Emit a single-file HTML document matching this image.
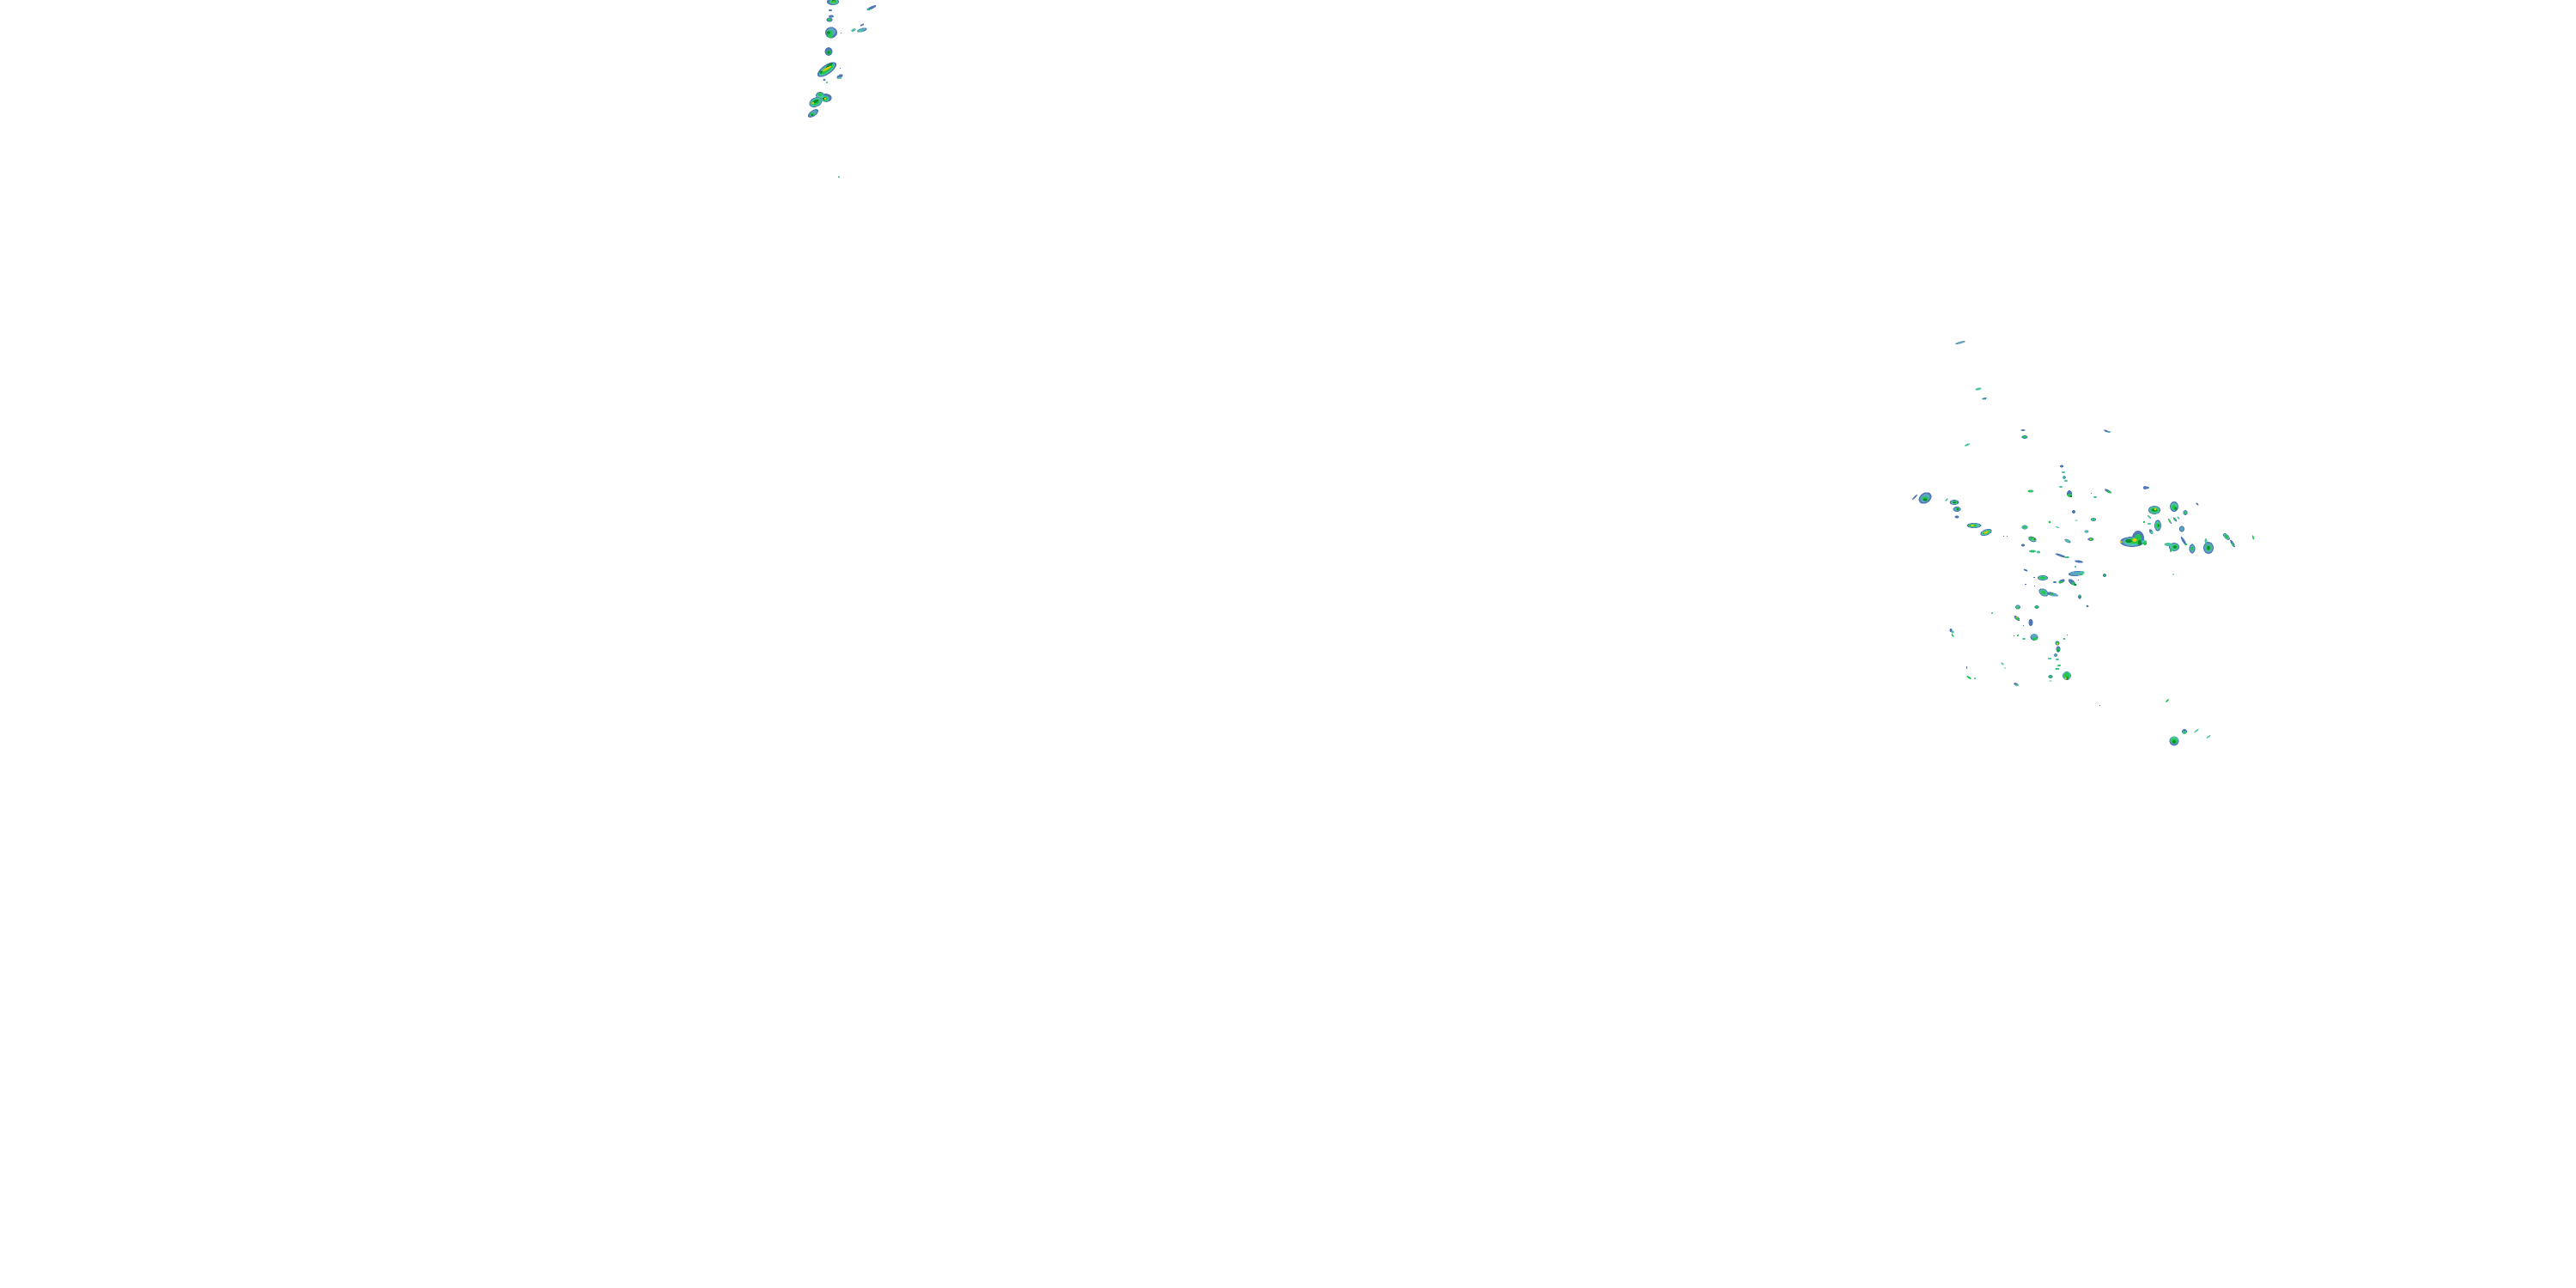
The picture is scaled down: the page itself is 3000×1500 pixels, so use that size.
<!DOCTYPE html>
<html><head><meta charset="utf-8"><style>
html,body{margin:0;padding:0;background:#fff;width:3000px;height:1500px;overflow:hidden}
svg{display:block}
.b{fill:#4f78b6}.l{fill:#5aa8bf}.t{fill:#4cc4a4}.g{fill:#20c84c}.d{fill:#0a8c2c}.y{fill:#f2c500}
</style></head><body>
<svg width="3000" height="1500" viewBox="0 0 3000 1500" shape-rendering="crispEdges">
<rect width="3000" height="1500" fill="#fff"/>
<g class="b">
<ellipse cx="970" cy="2" rx="7" ry="4"/>
<ellipse cx="1015" cy="9" rx="6" ry="1.6" transform="rotate(-25 1015 9)"/>
<ellipse cx="967" cy="12" rx="2" ry="1"/>
<ellipse cx="968" cy="19" rx="3" ry="1.5"/>
<ellipse cx="966" cy="23" rx="3.5" ry="2.5"/>
<ellipse cx="968" cy="38" rx="7" ry="6.5"/>
<ellipse cx="1004" cy="29" rx="2.5" ry="1" transform="rotate(-30 1004 29)"/>
<ellipse cx="1004" cy="35" rx="6" ry="2.2" transform="rotate(-15 1004 35)"/>
<ellipse cx="965" cy="60" rx="4.5" ry="5"/>
<ellipse cx="963" cy="81" rx="13" ry="5.5" transform="rotate(-35 963 81)"/>
<ellipse cx="978" cy="89" rx="4" ry="2" transform="rotate(-30 978 89)"/>
<ellipse cx="960" cy="93" rx="1.5" ry="1"/>
<ellipse cx="950" cy="119" rx="8" ry="5.5" transform="rotate(-25 950 119)"/>
<ellipse cx="962" cy="114" rx="6.5" ry="5"/>
<ellipse cx="955" cy="111" rx="5" ry="4"/>
<ellipse cx="947" cy="132" rx="7" ry="3.5" transform="rotate(-35 947 132)"/>
<ellipse cx="2283" cy="399" rx="6" ry="1.2" transform="rotate(-15 2283 399)"/>
<ellipse cx="2311" cy="464" rx="3" ry=".9" transform="rotate(-15 2311 464)"/>
<ellipse cx="2356" cy="501" rx="2.5" ry=".9"/>
<ellipse cx="2358" cy="509" rx="3.5" ry="2"/>
<ellipse cx="2453" cy="502" rx="3" ry="1" transform="rotate(20 2453 502)"/>
<ellipse cx="2401" cy="543" rx="2" ry="1.5"/>
<ellipse cx="2410" cy="575" rx="3" ry="4"/>
<ellipse cx="2455" cy="572" rx="4.5" ry="1.5" transform="rotate(30 2455 572)"/>
<ellipse cx="2498" cy="568" rx="2" ry="2"/>
<ellipse cx="2242" cy="580" rx="8" ry="6" transform="rotate(-35 2242 580)"/>
<ellipse cx="2230" cy="579" rx="4" ry="1" transform="rotate(-45 2230 579)"/>
<ellipse cx="2276" cy="585" rx="5.5" ry="3"/>
<ellipse cx="2279" cy="593" rx="4.5" ry="3"/>
<ellipse cx="2279" cy="602" rx="2.5" ry="1.5"/>
<ellipse cx="2299" cy="612" rx="8.5" ry="3"/>
<ellipse cx="2313" cy="620" rx="7" ry="3.5" transform="rotate(-20 2313 620)"/>
<ellipse cx="2358" cy="614" rx="3.5" ry="2.5"/>
<ellipse cx="2367" cy="628" rx="5" ry="3" transform="rotate(20 2367 628)"/>
<ellipse cx="2356" cy="635" rx="2" ry="1.5"/>
<ellipse cx="2415" cy="596" rx="2" ry="2"/>
<ellipse cx="2438" cy="605" rx="3" ry="2"/>
<ellipse cx="2430" cy="619" rx="2.5" ry="1.5"/>
<ellipse cx="2435" cy="628" rx="3.5" ry="2"/>
<ellipse cx="2408" cy="630" rx="4" ry="1.8" transform="rotate(25 2408 630)"/>
<ellipse cx="2483" cy="631" rx="14" ry="6"/>
<ellipse cx="2490" cy="627" rx="7" ry="9"/>
<ellipse cx="2500" cy="568" rx="3" ry="1.5"/>
<ellipse cx="2509" cy="594" rx="7" ry="5"/>
<ellipse cx="2532" cy="590" rx="5" ry="6"/>
<ellipse cx="2545" cy="597" rx="2.5" ry="3"/>
<ellipse cx="2559" cy="587" rx="2" ry=".8" transform="rotate(45 2559 587)"/>
<ellipse cx="2513" cy="612" rx="4" ry="6.5"/>
<ellipse cx="2505" cy="619" rx="1.8" ry="3" transform="rotate(-30 2505 619)"/>
<ellipse cx="2527" cy="607" rx="3.5" ry="1" transform="rotate(60 2527 607)"/>
<ellipse cx="2533" cy="605" rx="3" ry="1.2" transform="rotate(50 2533 605)"/>
<ellipse cx="2541" cy="616" rx="3" ry="3.5"/>
<ellipse cx="2543" cy="630" rx="6" ry="1.5" transform="rotate(60 2543 630)"/>
<ellipse cx="2532" cy="637" rx="6" ry="5"/>
<ellipse cx="2553" cy="639" rx="3.5" ry="5.5"/>
<ellipse cx="2572" cy="638" rx="6" ry="7"/>
<ellipse cx="2593" cy="625" rx="5" ry="2.5" transform="rotate(45 2593 625)"/>
<ellipse cx="2600" cy="633" rx="5" ry="1.5" transform="rotate(60 2600 633)"/>
<ellipse cx="2359" cy="664" rx="2.5" ry="1" transform="rotate(20 2359 664)"/>
<ellipse cx="2379" cy="673" rx="6" ry="3"/>
<ellipse cx="2400" cy="647" rx="7" ry="1.3" transform="rotate(20 2400 647)"/>
<ellipse cx="2421" cy="654" rx="5" ry="1.5" transform="rotate(10 2421 654)"/>
<ellipse cx="2418" cy="668" rx="9" ry="3" transform="rotate(-5 2418 668)"/>
<ellipse cx="2413" cy="678" rx="5" ry="2.5" transform="rotate(40 2413 678)"/>
<ellipse cx="2401" cy="677" rx="4" ry="2" transform="rotate(-25 2401 677)"/>
<ellipse cx="2393" cy="678" rx="2" ry="1"/>
<ellipse cx="2451" cy="670" rx="2" ry="2"/>
<ellipse cx="2380" cy="690" rx="6" ry="4" transform="rotate(35 2380 690)"/>
<ellipse cx="2390" cy="692" rx="7" ry="2" transform="rotate(15 2390 692)"/>
<ellipse cx="2422" cy="695" rx="2" ry="2.5"/>
<ellipse cx="2431" cy="706" rx="1.5" ry="1"/>
<ellipse cx="2350" cy="707" rx="3" ry="2.5"/>
<ellipse cx="2372" cy="707" rx="2.5" ry="2"/>
<ellipse cx="2349" cy="720" rx="4" ry="2" transform="rotate(40 2349 720)"/>
<ellipse cx="2365" cy="725" rx="2.5" ry="4"/>
<ellipse cx="2369" cy="742" rx="4.5" ry="4"/>
<ellipse cx="2396" cy="749" rx="2.5" ry="2.5"/>
<ellipse cx="2397" cy="756" rx="2.5" ry="3.5"/>
<ellipse cx="2394" cy="763" rx="2" ry="2"/>
<ellipse cx="2407" cy="787" rx="5" ry="5"/>
<ellipse cx="2388" cy="788" rx="2.5" ry="2"/>
<ellipse cx="2348" cy="797" rx="3" ry="1.5" transform="rotate(25 2348 797)"/>
<ellipse cx="2532" cy="863" rx="5.5" ry="5.5"/>
<ellipse cx="2544" cy="852" rx="3" ry="3"/>
<ellipse cx="2272" cy="734" rx="1.5" ry="2"/>
<rect x="2435" y="574" width="1" height="1"/><rect x="2333" y="624" width="1" height="1"/><rect x="2337" y="624" width="1" height="1"/><rect x="2290" y="776" width="1" height="3"/><rect x="2369" y="682" width="1" height="1"/><rect x="2407" y="739" width="1" height="1"/><rect x="2358" y="680" width="2" height="1"/><rect x="2445" y="821" width="1" height="1"/><rect x="978" y="79" width="1" height="1"/><rect x="979" y="38" width="1" height="1"/>
<rect x="2368" y="672" width="2" height="1"/><rect x="2345" y="740" width="1" height="1"/><rect x="2356" y="728" width="1" height="1"/><rect x="2420" y="675" width="1" height="1"/>
</g>
<g class="l">
<ellipse cx="1004" cy="35" rx="4.5" ry="1.5" transform="rotate(-15 1004 35)"/>
<ellipse cx="968" cy="37" rx="5" ry="4.5"/>
<ellipse cx="2283" cy="399" rx="5" ry="1" transform="rotate(-15 2283 399)"/>
<ellipse cx="2404" cy="556" rx="2" ry="2"/>
<ellipse cx="2242" cy="580" rx="6" ry="4.5" transform="rotate(-35 2242 580)"/>
<ellipse cx="2279" cy="593" rx="3.5" ry="2.2"/>
<ellipse cx="2456" cy="503" rx="2" ry="1"/>
<ellipse cx="2418" cy="668" rx="7" ry="2.3"/>
<ellipse cx="2483" cy="631" rx="11" ry="5"/>
<ellipse cx="2392" cy="693" rx="4" ry="1.5"/>
<ellipse cx="2572" cy="638" rx="5" ry="5.5"/>
<ellipse cx="2553" cy="639" rx="2.5" ry="4"/>
<ellipse cx="2541" cy="616" rx="2" ry="2.5"/>
<ellipse cx="2394" cy="763" rx="1.5" ry="1.5"/>
<ellipse cx="2369" cy="741" rx="3.5" ry="3"/>
<ellipse cx="947" cy="132" rx="5" ry="2.5" transform="rotate(-35 947 132)"/>
</g>
<g class="t">
<ellipse cx="971" cy="2" rx="5" ry="3"/>
<ellipse cx="994" cy="35" rx="3" ry="1.5" transform="rotate(-25 994 35)"/>
<ellipse cx="1002" cy="36" rx="3" ry="1.5"/>
<ellipse cx="963" cy="81" rx="11" ry="4" transform="rotate(-35 963 81)"/>
<ellipse cx="978" cy="91" rx="2" ry="1.2"/>
<ellipse cx="963" cy="96" rx="1.5" ry=".8" transform="rotate(-45 963 96)"/>
<ellipse cx="977" cy="206" rx="1.5" ry=".8" transform="rotate(-45 977 206)"/>
<ellipse cx="950" cy="119" rx="7" ry="4.5" transform="rotate(-25 950 119)"/>
<ellipse cx="955" cy="111" rx="4" ry="3"/>
<ellipse cx="961" cy="115" rx="4.5" ry="3.5"/>
<ellipse cx="2304" cy="453" rx="3.5" ry="1.3" transform="rotate(-10 2304 453)"/>
<ellipse cx="2311" cy="465" rx="2" ry=".7"/>
<ellipse cx="2403" cy="550" rx="2.2" ry="1"/>
<ellipse cx="2406" cy="560" rx="2" ry="1"/>
<ellipse cx="2400" cy="567" rx="2" ry="1"/>
<ellipse cx="2365" cy="572" rx="3.5" ry="1.5"/>
<ellipse cx="2440" cy="579" rx="2" ry="1"/>
<ellipse cx="2267" cy="582" rx="2.2" ry="1" transform="rotate(-45 2267 582)"/>
<ellipse cx="2291" cy="518" rx="3.5" ry="1.1" transform="rotate(-25 2291 518)"/>
<ellipse cx="2276" cy="585" rx="4" ry="2.2"/>
<ellipse cx="2299" cy="612" rx="7" ry="2.3"/>
<ellipse cx="2313" cy="620" rx="6" ry="2.6" transform="rotate(-20 2313 620)"/>
<ellipse cx="2358" cy="614" rx="3" ry="2"/>
<ellipse cx="2367" cy="628" rx="4" ry="2.2" transform="rotate(20 2367 628)"/>
<ellipse cx="2418" cy="606" rx="1.5" ry=".7"/>
<ellipse cx="2396" cy="614" rx="2" ry=".7" transform="rotate(20 2396 614)"/>
<ellipse cx="2438" cy="605" rx="2.3" ry="1.6"/>
<ellipse cx="2430" cy="619" rx="2" ry="1.2"/>
<ellipse cx="2408" cy="630" rx="3" ry="1.4" transform="rotate(25 2408 630)"/>
<ellipse cx="2509" cy="594" rx="6" ry="4"/>
<ellipse cx="2532" cy="590" rx="4" ry="4.5"/>
<ellipse cx="2545" cy="597" rx="1.5" ry="2.3"/>
<ellipse cx="2503" cy="602" rx="2.5" ry="1" transform="rotate(45 2503 602)"/>
<ellipse cx="2503" cy="610" rx="2" ry="1"/>
<ellipse cx="2513" cy="612" rx="3" ry="5"/>
<ellipse cx="2506" cy="620" rx="1.5" ry="2"/>
<ellipse cx="2537" cy="603" rx="2" ry=".8" transform="rotate(45 2537 603)"/>
<ellipse cx="2525" cy="634" rx="4.5" ry="2"/>
<ellipse cx="2532" cy="637" rx="5" ry="4"/>
<ellipse cx="2569" cy="630" rx="1.5" ry="3"/>
<ellipse cx="2593" cy="625" rx="4" ry="2" transform="rotate(45 2593 625)"/>
<ellipse cx="2367" cy="642" rx="4" ry="1.5"/>
<ellipse cx="2374" cy="643" rx="2" ry="1.5"/>
<ellipse cx="2407" cy="649" rx="3" ry="1"/>
<ellipse cx="2379" cy="673" rx="5" ry="2.2"/>
<ellipse cx="2425" cy="667" rx="2.5" ry="2"/>
<ellipse cx="2380" cy="690" rx="5" ry="3" transform="rotate(35 2380 690)"/>
<ellipse cx="2320" cy="714" rx="1" ry="1"/>
<ellipse cx="2350" cy="707" rx="2.2" ry="1.8"/>
<ellipse cx="2387" cy="767" rx="2" ry="1"/>
<ellipse cx="2396" cy="768" rx="2" ry="1"/>
<ellipse cx="2398" cy="775" rx="2" ry="1"/>
<ellipse cx="2396" cy="779" rx="2.5" ry="1"/>
<ellipse cx="2388" cy="793" rx="1.5" ry=".7"/>
<ellipse cx="2407" cy="787" rx="4.5" ry="4.5"/>
<ellipse cx="2332" cy="773" rx="2" ry="1" transform="rotate(45 2332 773)"/>
<ellipse cx="2335" cy="778" rx="1" ry=".6"/>
<ellipse cx="2349" cy="798" rx="2" ry="1.2"/>
<ellipse cx="2357" cy="744" rx="2" ry="1"/>
<ellipse cx="2404" cy="744" rx="1.5" ry="1.2"/>
<ellipse cx="2274" cy="736" rx="1.5" ry="1.5"/>
<ellipse cx="2300" cy="790" rx="1" ry="1"/>
<ellipse cx="2558" cy="851" rx="3.5" ry=".8" transform="rotate(-40 2558 851)"/>
<ellipse cx="2572" cy="858" rx="3" ry=".8" transform="rotate(-40 2572 858)"/>
<ellipse cx="2532" cy="862" rx="4.5" ry="4.5"/>
<ellipse cx="2544" cy="853" rx="2" ry="2"/>
<ellipse cx="2497" cy="631" rx="3" ry="2"/>
<ellipse cx="2417" cy="660" rx="1" ry="1"/>
<ellipse cx="2483" cy="631" rx="9" ry="4"/>
</g>
<g class="g">
<ellipse cx="971" cy="2" rx="3.5" ry="2"/>
<ellipse cx="966" cy="23" rx="2" ry="1.5"/>
<ellipse cx="966" cy="38" rx="3.5" ry="2.5"/>
<ellipse cx="967" cy="42" rx="3" ry="2"/>
<ellipse cx="965" cy="61" rx="2.5" ry="2.5"/>
<ellipse cx="1012" cy="11" rx="1.5" ry="1"/>
<ellipse cx="963" cy="81" rx="9" ry="2.8" transform="rotate(-35 963 81)"/>
<ellipse cx="950" cy="119" rx="5" ry="3" transform="rotate(-25 950 119)"/>
<ellipse cx="961" cy="115" rx="3" ry="2.5"/>
<ellipse cx="955" cy="110" rx="2.5" ry="2"/>
<ellipse cx="946" cy="133" rx="3" ry="1.8"/>
<ellipse cx="2358" cy="509" rx="2.5" ry="1.2"/>
<ellipse cx="2364" cy="572" rx="2.5" ry="1.2"/>
<ellipse cx="2410" cy="577" rx="2" ry="2"/>
<ellipse cx="2456" cy="573" rx="3" ry="1" transform="rotate(30 2456 573)"/>
<ellipse cx="2242" cy="581" rx="3.5" ry="2.5"/>
<ellipse cx="2277" cy="585" rx="3" ry="1.5"/>
<ellipse cx="2280" cy="593" rx="2" ry="1.5"/>
<ellipse cx="2297" cy="612" rx="5" ry="1.6"/>
<ellipse cx="2313" cy="620" rx="4.5" ry="1.8" transform="rotate(-20 2313 620)"/>
<ellipse cx="2358" cy="614" rx="2" ry="1.3"/>
<ellipse cx="2366" cy="627" rx="3" ry="1.5"/>
<ellipse cx="2387" cy="608" rx="1.3" ry="1.3"/>
<ellipse cx="2438" cy="605" rx="1.5" ry="1"/>
<ellipse cx="2435" cy="628" rx="2.3" ry="1.4"/>
<ellipse cx="2497" cy="608" rx="1" ry="1.3"/>
<ellipse cx="2509" cy="594" rx="4.5" ry="2.8"/>
<ellipse cx="2532" cy="591" rx="2.5" ry="3"/>
<ellipse cx="2545" cy="597" rx="1" ry="1.5"/>
<ellipse cx="2513" cy="612" rx="2.2" ry="3"/>
<ellipse cx="2527" cy="607" rx="2" ry=".8" transform="rotate(60 2527 607)"/>
<ellipse cx="2533" cy="605" rx="1.5" ry=".8" transform="rotate(50 2533 605)"/>
<ellipse cx="2546" cy="634" rx="1.5" ry="1"/>
<ellipse cx="2533" cy="637" rx="3" ry="2.5"/>
<ellipse cx="2528" cy="641" rx="1" ry="2"/>
<ellipse cx="2553" cy="639" rx="1.5" ry="2.2"/>
<ellipse cx="2572" cy="638" rx="2.8" ry="3.5"/>
<ellipse cx="2593" cy="625" rx="2.5" ry="1.3" transform="rotate(45 2593 625)"/>
<ellipse cx="2600" cy="634" rx="2.5" ry=".8" transform="rotate(60 2600 634)"/>
<ellipse cx="2624" cy="626" rx="2.5" ry=".8" transform="rotate(80 2624 626)"/>
<ellipse cx="2531" cy="669" rx="1" ry=".8"/>
<ellipse cx="2367" cy="642" rx="2.5" ry="1"/>
<ellipse cx="2408" cy="649" rx="1.3" ry=".8"/>
<ellipse cx="2379" cy="673" rx="3.5" ry="1.3"/>
<ellipse cx="2424" cy="669" rx="1.5" ry="1.2"/>
<ellipse cx="2415" cy="680" rx="3" ry="1.5" transform="rotate(40 2415 680)"/>
<ellipse cx="2400" cy="678" rx="2.5" ry="1.2"/>
<ellipse cx="2451" cy="670" rx="1.2" ry="1.2"/>
<ellipse cx="2380" cy="690" rx="3" ry="1.8" transform="rotate(35 2380 690)"/>
<ellipse cx="2389" cy="692" rx="2" ry="1"/>
<ellipse cx="2422" cy="694" rx="1.2" ry="1"/>
<ellipse cx="2351" cy="708" rx="1.5" ry="1.2"/>
<ellipse cx="2372" cy="707" rx="1.8" ry="1.4"/>
<ellipse cx="2349" cy="720" rx="2.8" ry="1.3" transform="rotate(40 2349 720)"/>
<ellipse cx="2370" cy="744" rx="3" ry="1.8"/>
<ellipse cx="2350" cy="740" rx="1" ry="1"/>
<ellipse cx="2396" cy="749" rx="1.8" ry="1.8"/>
<ellipse cx="2397" cy="757" rx="1.8" ry="2.2"/>
<ellipse cx="2398" cy="775" rx="1.5" ry=".8"/>
<ellipse cx="2395" cy="779" rx="1.5" ry=".8"/>
<ellipse cx="2407" cy="787" rx="3.5" ry="3.5"/>
<ellipse cx="2388" cy="788" rx="1.5" ry="1.5"/>
<ellipse cx="2293" cy="789" rx="3" ry="1.1" transform="rotate(35 2293 789)"/>
<ellipse cx="2274" cy="740" rx="2.2" ry=".9" transform="rotate(60 2274 740)"/>
<ellipse cx="2524" cy="816" rx="2.5" ry="1" transform="rotate(-40 2524 816)"/>
<ellipse cx="2532" cy="863" rx="3.5" ry="3"/>
<ellipse cx="2544" cy="853" rx="1.2" ry="1.5"/>
<ellipse cx="2484" cy="630" rx="8" ry="3"/>
<ellipse cx="2490" cy="628" rx="4" ry="6"/>
<ellipse cx="2498" cy="633" rx="2" ry="2"/>
</g>
<g class="d">
<ellipse cx="971" cy="1" rx="2" ry="1.2"/>
<ellipse cx="965" cy="38" rx="2" ry="1.5"/>
<ellipse cx="965" cy="61" rx="1.5" ry="1.5"/>
<ellipse cx="966" cy="76" rx="5" ry="1.5" transform="rotate(-35 966 76)"/>
<ellipse cx="956" cy="84" rx="1.5" ry="1.5"/>
<ellipse cx="950" cy="118" rx="3.5" ry="1.8" transform="rotate(-25 950 118)"/>
<ellipse cx="960" cy="115" rx="2" ry="1.5"/>
<ellipse cx="946" cy="134" rx="1.5" ry="1"/>
<ellipse cx="2242" cy="582" rx="2.5" ry="1.5"/>
<ellipse cx="2280" cy="593" rx="1.3" ry="1"/>
<ellipse cx="2276" cy="585" rx="1.8" ry="1"/>
<ellipse cx="2412" cy="578" rx="1.3" ry="1"/>
<ellipse cx="2509" cy="594" rx="3" ry="1.6"/>
<ellipse cx="2534" cy="592" rx="1.3" ry="1.3"/>
<ellipse cx="2514" cy="612" rx="1.2" ry="1.5"/>
<ellipse cx="2533" cy="637" rx="1.8" ry="1.5"/>
<ellipse cx="2572" cy="638" rx="1.5" ry="2.2"/>
<ellipse cx="2417" cy="681" rx="1.5" ry="1"/>
<ellipse cx="2369" cy="628" rx="1.5" ry="1"/>
<ellipse cx="2397" cy="758" rx="1" ry="1.3"/>
<ellipse cx="2407" cy="790" rx="1.8" ry="1.8"/>
<ellipse cx="2532" cy="864" rx="2.3" ry="1.8"/>
<ellipse cx="2479" cy="630" rx="4" ry="2"/>
<ellipse cx="2492" cy="632" rx="2" ry="3"/>
</g>
<g class="y">
<ellipse cx="971" cy="2" rx="1" ry=".8"/>
<ellipse cx="963" cy="80" rx="5.5" ry="1.2" transform="rotate(-30 963 80)"/>
<ellipse cx="947" cy="120" rx="1.3" ry="1"/>
<ellipse cx="961" cy="115" rx="1.3" ry="1"/>
<ellipse cx="2297" cy="612" rx="2" ry=".9"/>
<ellipse cx="2313" cy="620" rx="3" ry="1" transform="rotate(-20 2313 620)"/>
<ellipse cx="2368" cy="628" rx="1" ry=".8"/>
<ellipse cx="2510" cy="593" rx="1.3" ry="1.3"/>
<ellipse cx="2486" cy="629" rx="2.5" ry="2"/>
<ellipse cx="2470" cy="631" rx="1.5" ry="1"/>
<ellipse cx="2406" cy="790" rx=".9" ry="1.4"/>
<ellipse cx="2396" cy="750" rx=".9" ry=".9"/>
<ellipse cx="2349" cy="719" rx="1" ry=".8"/>
<ellipse cx="2435" cy="628" rx="1" ry=".8"/>
</g>
</svg>
</body></html>
